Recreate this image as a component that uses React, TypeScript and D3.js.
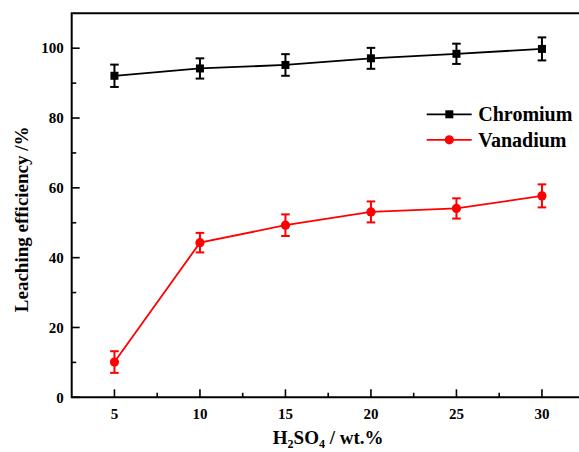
import React from "react";
import * as d3 from "d3";

const WIDTH = 579;
const HEIGHT = 452;
const margin = { top: 13.3, right: -5.7, bottom: 54.7, left: 71.7 };

const acid = [5, 10, 15, 20, 25, 30];
const chromium = [92.1, 94.2, 95.2, 97.1, 98.4, 99.8];
const chromiumErr = [3.2, 2.9, 3.1, 3.0, 2.9, 3.3];
const vanadium = [10.1, 44.3, 49.3, 53.1, 54.1, 57.7];
const vanadiumErr = [3.1, 2.8, 3.1, 3.0, 2.9, 3.3];

const xMajor = [5, 10, 15, 20, 25, 30];
const xMinor = [7.5, 12.5, 17.5, 22.5, 27.5];
const yMajor = [0, 20, 40, 60, 80, 100];
const yMinor = [10, 30, 50, 70, 90];

const FONT = "Liberation Serif, Times New Roman, DejaVu Serif, serif";

const series = [
  { name: "Chromium", values: chromium, errors: chromiumErr, color: "#000000", shape: "square" },
  { name: "Vanadium", values: vanadium, errors: vanadiumErr, color: "#ff0000", shape: "circle" },
];

function Marker({ x, y, shape, color }) {
  if (shape === "square") {
    return <rect x={x - 4} y={y - 4} width={8} height={8} fill={color} />;
  }
  return <circle cx={x} cy={y} r={4.6} fill={color} />;
}

export default function App() {
  const x = d3
    .scaleLinear()
    .domain([2.5, 32.5])
    .range([margin.left, WIDTH - margin.right]);
  const y = d3
    .scaleLinear()
    .domain([0, 110])
    .range([HEIGHT - margin.bottom, margin.top]);

  const line = d3
    .line<number>()
    .x((_, i) => x(acid[i]))
    .y((d) => y(d));

  const x0 = x.range()[0];
  const x1 = x.range()[1];
  const y0 = y.range()[0];
  const y1 = y.range()[1];

  return (
    <svg
      width={WIDTH}
      height={HEIGHT}
      style={{
        position: "absolute",
        left: 0,
        top: 0,
        background: "#fff",
        fontFamily: FONT,
        fontWeight: "bold",
      }}
    >
      {/* frame */}
      <g stroke="#000" strokeWidth={2} fill="none">
        <path d={`M${x0},${y1}H${x1}V${y0}H${x0}Z`} />
      </g>

      {/* ticks point inward */}
      <g stroke="#000" strokeWidth={1.6}>
        {yMajor.map((t) => (
          <line key={t} x1={x0} x2={x0 + 8} y1={y(t)} y2={y(t)} />
        ))}
        {yMinor.map((t) => (
          <line key={t} x1={x0} x2={x0 + 4.5} y1={y(t)} y2={y(t)} />
        ))}
        {xMajor.map((t) => (
          <line key={t} x1={x(t)} x2={x(t)} y1={y0} y2={y0 - 8} />
        ))}
        {xMinor.map((t) => (
          <line key={t} x1={x(t)} x2={x(t)} y1={y0} y2={y0 - 4.5} />
        ))}
      </g>

      <g fontSize={15} fill="#000">
        {yMajor.map((t) => (
          <text key={t} x={x0 - 8} y={y(t)} dy="0.35em" textAnchor="end">
            {t}
          </text>
        ))}
        {xMajor.map((t) => (
          <text key={t} x={x(t)} y={y0 + 22} textAnchor="middle">
            {t}
          </text>
        ))}
      </g>

      {/* axis titles */}
      <text
        transform={`translate(27.5, ${(y0 + y1) / 2 + 14}) rotate(-90)`}
        textAnchor="middle"
        fontSize={19}
      >
        Leaching efficiency /%
      </text>
      <text x={(x0 + x1) / 2} y={444} textAnchor="middle" fontSize={19}>
        H<tspan fontSize={12} dy={4}>2</tspan>
        <tspan dy={-4}>SO</tspan>
        <tspan fontSize={12} dy={4}>4</tspan>
        <tspan dy={-4}> / wt.%</tspan>
      </text>

      {/* series */}
      {series.map((s) => (
        <g key={s.name}>
          <path d={line(s.values) || ""} fill="none" stroke={s.color} strokeWidth={1.8} />
          <g stroke={s.color} strokeWidth={2}>
            {s.values.map((v, i) => {
              const cx = x(acid[i]);
              const top = y(v + s.errors[i]);
              const bot = y(v - s.errors[i]);
              return (
                <g key={i}>
                  <line x1={cx} x2={cx} y1={top} y2={bot} />
                  <line x1={cx - 4.3} x2={cx + 4.3} y1={top} y2={top} />
                  <line x1={cx - 4.3} x2={cx + 4.3} y1={bot} y2={bot} />
                </g>
              );
            })}
          </g>
          {s.values.map((v, i) => (
            <Marker key={i} x={x(acid[i])} y={y(v)} shape={s.shape} color={s.color} />
          ))}
        </g>
      ))}

      {/* legend */}
      {series.map((s, i) => {
        const ly = 114.3 + i * 25.5;
        return (
          <g key={s.name}>
            <line x1={426.7} x2={471.7} y1={ly} y2={ly} stroke={s.color} strokeWidth={1.8} />
            <Marker x={449.3} y={ly} shape={s.shape} color={s.color} />
            <text x={478.3} y={ly} dy="0.35em" fontSize={20}>
              {s.name}
            </text>
          </g>
        );
      })}
    </svg>
  );
}
